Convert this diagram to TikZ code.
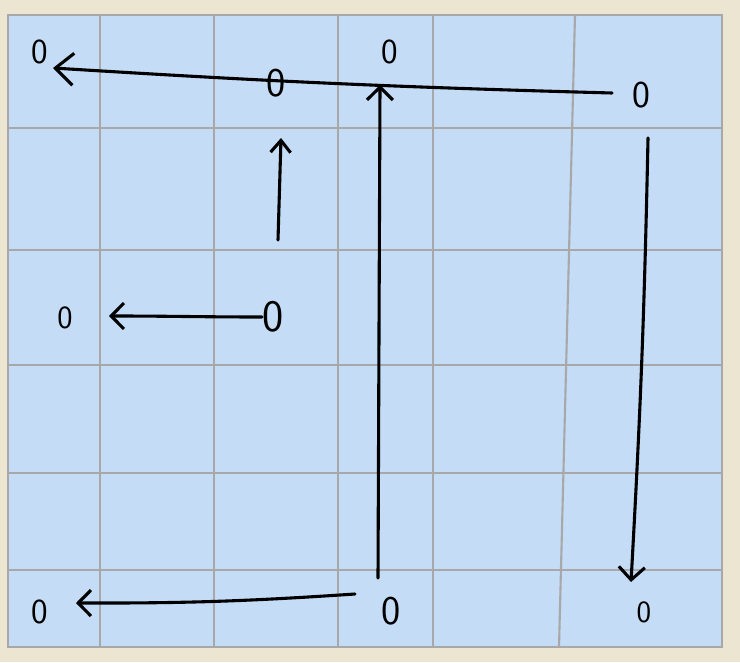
\documentclass[tikz,border=0pt]{standalone}
\usepackage{tikz}
\usetikzlibrary{arrows.meta, positioning}
\definecolor{paper}{RGB}{236,229,209}
\definecolor{cellblue}{RGB}{196,220,245}
\definecolor{gridgray}{RGB}{168,168,168}

\begin{document}
\begin{tikzpicture}[x=0.025cm, y=-0.025cm,
  zero/.style={font=\sffamily\fontsize{#1}{#1}\selectfont, inner sep=0pt},
  zero/.default=25,
  gridline/.style={draw=gridgray, line width=1.5pt},
  ink/.style={line width=2.2pt, line cap=round, line join=round},
  bigbarb/.style={-{Straight Barb[length=4.5mm, width=8mm]}},
  barb/.style={-{Straight Barb[length=3.2mm, width=6.5mm]}},
  smallbarb/.style={-{Straight Barb[length=3mm, width=5mm]}}]
  \useasboundingbox[fill=paper] (0,0) rectangle (740,662);
  % squared sheet
  \filldraw[fill=cellblue, gridline] (8,15) rectangle (722,647);
  \foreach \gx in {100,214,338,433}
    \draw[gridline] (\gx,15) -- (\gx,647);
  \draw[gridline] (575,15) -- (559,647);
  \foreach \gy in {128,250,365,473,570}
    \draw[gridline] (8,\gy) -- (722,\gy);

  % the zeros
  \node[zero] (top_left) at (40,52) {0};
  \node[zero] (top_mid) at (390,52) {0};
  \node[zero=29] (top_cross) at (276,83) {0};
  \node[zero=27] (top_right) at (641,95) {0};
  \node[zero=23] (mid_left) at (65,318) {0};
  \node[zero=32] (mid_start) at (273,317) {0};
  \node[zero] (bot_left) at (40,612) {0};
  \node[zero=29] (bot_mid) at (391,611) {0};
  \node[zero=22] (bot_right) at (644,612) {0};

  % free ends of the strokes
  \coordinate (row_start) at (612,93);
  \coordinate (row_end) at (53,68);
  \coordinate (col_start) at (378,578);
  \coordinate (col_end) at (380,85);
  \coordinate (up_start) at (278,240);
  \coordinate (up_end) at (281,138);
  \coordinate (left_end) at (109,316);
  \coordinate (bot_start) at (355,594);
  \coordinate (bot_end) at (76,603);
  \coordinate (down_start) at (648,138);
  \coordinate (down_end) at (631,582);

  \path[ink]
    (row_start) edge[bigbarb, bend left=1] (row_end)
    (col_start) edge[barb] (col_end)
    (up_start) edge[smallbarb] (up_end)
    (mid_start.west) edge[barb, out=180, in=0] (left_end)
    (bot_start) edge[barb, bend left=2] (bot_end)
    (down_start) edge[barb, bend left=1] (down_end)
  ;
\end{tikzpicture}
\end{document}
